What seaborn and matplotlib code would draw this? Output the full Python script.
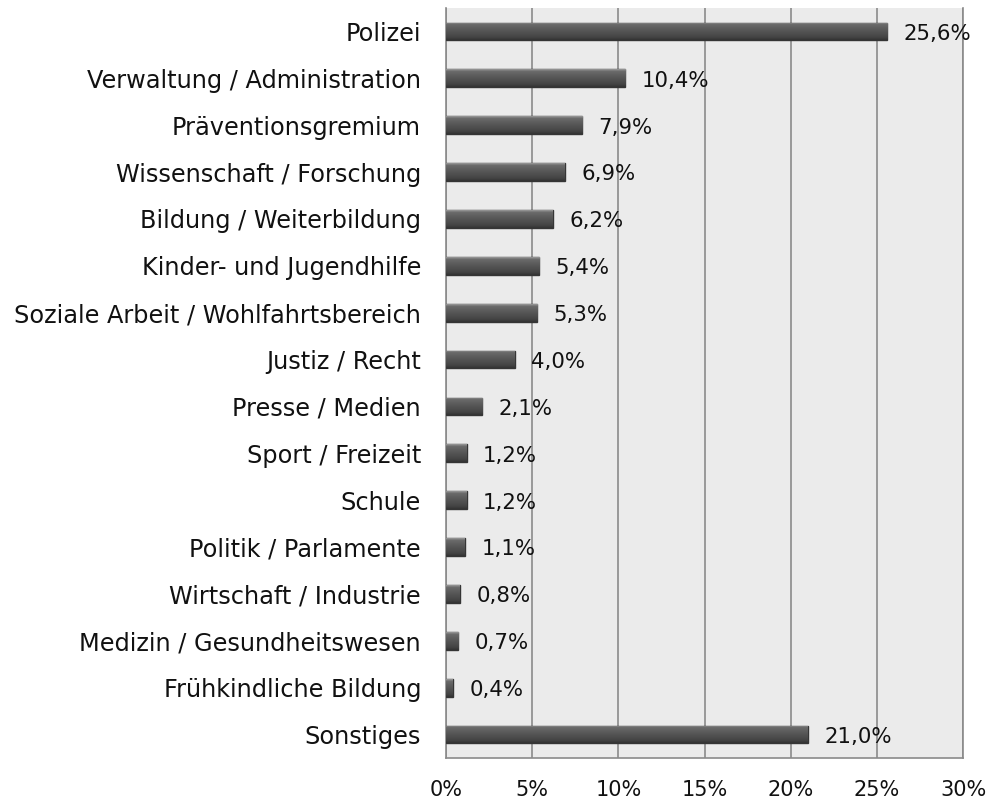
import matplotlib
matplotlib.use("Agg")
import matplotlib.pyplot as plt
import seaborn as sns
import pandas as pd
import numpy as np
from matplotlib.colors import LinearSegmentedColormap

categories = ["Polizei", "Verwaltung / Administration", "Präventionsgremium",
              "Wissenschaft / Forschung", "Bildung / Weiterbildung",
              "Kinder- und Jugendhilfe", "Soziale Arbeit / Wohlfahrtsbereich",
              "Justiz / Recht", "Presse / Medien", "Sport / Freizeit", "Schule",
              "Politik / Parlamente", "Wirtschaft / Industrie",
              "Medizin / Gesundheitswesen", "Frühkindliche Bildung", "Sonstiges"]
values = [25.6, 10.4, 7.9, 6.9, 6.2, 5.4, 5.3, 4.0, 2.1, 1.2, 1.2, 1.1, 0.8, 0.7, 0.4, 21.0]
xticks = [0, 5, 10, 15, 20, 25, 30]

df = pd.DataFrame({"cat": categories, "val": values})

sns.set_theme(style="white")
plt.rcParams['font.family'] = ['DejaVu Sans']

fig = plt.figure(figsize=(9.89, 8.01), dpi=100)
ax = fig.add_axes([446/989, 1-758/801, (963-446)/989, 750/801])
ax.set_facecolor("#ebebeb")

sns.barplot(data=df, x="val", y="cat", ax=ax, color="#505050", width=0.38,
            edgecolor="#353535", linewidth=1.0, saturation=1, zorder=3)

ax.set_xlim(0, 30)
ax.set_ylim(15.5, -0.5)

# gradient shading on bars (clipped to seaborn's own bar patches)
cmap = LinearSegmentedColormap.from_list(
    "bevel", [(0.0, "#9a9a9a"), (0.12, "#6a6a6a"), (0.5, "#555555"),
              (0.85, "#444444"), (1.0, "#333333")])
grad = np.linspace(0, 1, 64).reshape(-1, 1)
for p in list(ax.patches):
    x0, y0 = p.get_x(), p.get_y()
    w, h = p.get_width(), p.get_height()
    im = ax.imshow(grad, cmap=cmap, aspect="auto", origin="upper",
                   extent=(x0, x0 + w, y0 + h, y0), zorder=3.5,
                   interpolation="bilinear")
    im.set_clip_path(p)
ax.set_xlim(0, 30)
ax.set_ylim(15.5, -0.5)

ax.set_xticks(xticks)
ax.set_xticklabels([f"{t}%" for t in xticks], fontsize=15, color="#111111")
ax.tick_params(axis="y", labelsize=17.3, pad=18, length=0, colors="#111111")
ax.tick_params(axis="x", pad=16, length=0)
ax.set_xlabel("")
ax.set_ylabel("")
ax.xaxis.grid(True, color="#8a8a8a", linewidth=1.2, zorder=1)
ax.set_axisbelow(True)

for i, v in enumerate(values):
    ax.text(v + 0.95, i + 0.05, f"{v:.1f}%".replace(".", ","), va="center", ha="left",
            fontsize=15.3, color="#111111", zorder=5)

for s in ["left", "right", "bottom"]:
    ax.spines[s].set_visible(True)
    ax.spines[s].set_color("#8a8a8a")
    ax.spines[s].set_linewidth(1.2)
ax.spines["top"].set_visible(False)

fig.savefig("out.png", dpi=100)
